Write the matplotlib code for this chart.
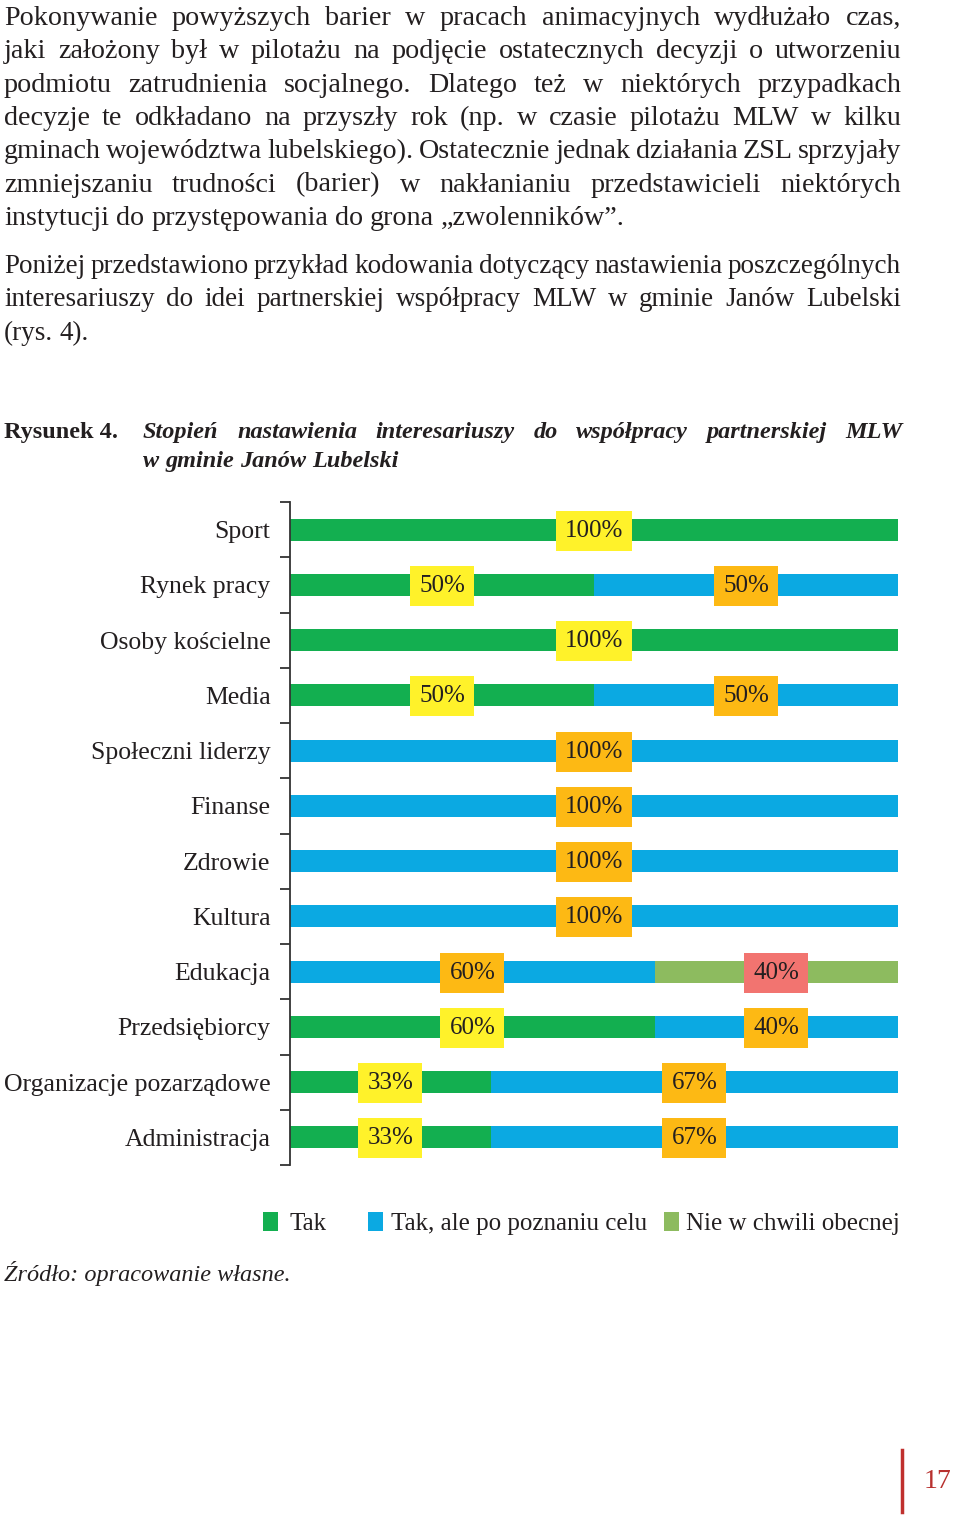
import matplotlib
matplotlib.use("Agg")
import matplotlib.pyplot as plt
import numpy as np

plt.rcParams['font.family'] = ['Liberation Serif', 'DejaVu Serif']

# dane z rysunku
categories = ['Sport', 'Rynek pracy', 'Osoby kościelne', 'Media', 'Społeczni liderzy',
              'Finanse', 'Zdrowie', 'Kultura', 'Edukacja', 'Przedsiębiorcy',
              'Organizacje pozarządowe', 'Administracja']
tak = [100, 50, 100, 50, 0, 0, 0, 0, 0, 60, 33, 33]
tak_po_poznaniu = [0, 50, 0, 50, 100, 100, 100, 100, 60, 40, 67, 67]
nie_obecnie = [0, 0, 0, 0, 0, 0, 0, 0, 40, 0, 0, 0]
series_names = ['Tak', 'Tak, ale po poznaniu celu', 'Nie w chwili obecnej']

bar_colors = ['#13AF50', '#0BA9E2', '#8DBB5F']
box_colors = ['#FFF22A', '#FDB914', '#F27470']
ink = '#231F20'

para1 = [
    "Pokonywanie powyższych barier w pracach animacyjnych wydłużało czas,",
    "jaki założony był w pilotażu na podjęcie ostatecznych decyzji o utworzeniu",
    "podmiotu zatrudnienia socjalnego. Dlatego też w niektórych przypadkach",
    "decyzje te odkładano na przyszły rok (np. w czasie pilotażu MLW w kilku",
    "gminach województwa lubelskiego). Ostatecznie jednak działania ZSL sprzyjały",
    "zmniejszaniu trudności (barier) w nakłanianiu przedstawicieli niektórych",
    "instytucji do przystępowania do grona „zwolenników”.",
]
para2 = [
    "Poniżej przedstawiono przykład kodowania dotyczący nastawienia poszczególnych",
    "interesariuszy do idei partnerskiej współpracy MLW w gminie Janów Lubelski",
    "(rys. 4).",
]

W, H = 960, 1520
fig = plt.figure(figsize=(W / 100, H / 100), dpi=100)
fig.patch.set_facecolor('white')
renderer = fig.canvas.get_renderer()


def fx(x):
    return x / W


def fy(y):
    return 1 - y / H


def text_width(s, size, **kw):
    t = fig.text(0, 0, s, fontsize=size, **kw)
    w = t.get_window_extent(renderer).width
    t.remove()
    return w


def fit_size(lines, width, size, min_gap=4, **kw):
    # najwiekszy rozmiar, przy ktorym wszystkie linie sie mieszcza
    while True:
        ok = True
        for s in lines:
            words = s.split(' ')
            nat = sum(text_width(w, size, **kw) for w in words)
            if nat + min_gap * (len(words) - 1) > width:
                ok = False
                break
        if ok:
            return size
        size -= 0.25


def line_text(s, x0, x1, y, size, justify=True, **kw):
    words = s.split(' ')
    widths = [text_width(w, size, **kw) for w in words]
    if justify and len(words) > 1:
        gap = (x1 - x0 - sum(widths)) / (len(words) - 1)
    else:
        gap = text_width('a a', size, **kw) - text_width('aa', size, **kw)
    x = x0
    for w, wd in zip(words, widths):
        fig.text(fx(x), fy(y), w, fontsize=size, va='baseline', color=ink, **kw)
        x += wd + gap


# tekst akapitow
s1 = fit_size(para1[:-1], 897, 20.5)
for i, s in enumerate(para1):
    line_text(s, 4, 901, 25 + i * 33.3, s1, justify=(i < len(para1) - 1))
s2 = fit_size(para2[:-1], 897, 20.5)
for i, s in enumerate(para2):
    line_text(s, 4, 901, 273 + i * 33.5, s2, justify=(i < len(para2) - 1))

# tytul rysunku
fig.text(fx(4), fy(438), 'Rysunek 4.', fontsize=17.5, fontweight='bold', va='baseline', color=ink)
line_text('Stopień nastawienia interesariuszy do współpracy partnerskiej MLW', 143, 903, 438, 17.5,
          fontweight='bold', style='italic')
line_text('w gminie Janów Lubelski', 143, 903, 467, 17.5, justify=False,
          fontweight='bold', style='italic')

# wykres
ax = fig.add_axes([fx(290), fy(1165), 608 / W, (1165 - 502) / H])
y = np.arange(len(categories))
left = np.zeros(len(categories))
for vals, col, bcol in zip([tak, tak_po_poznaniu, nie_obecnie], bar_colors, box_colors):
    vals = np.array(vals, dtype=float)
    ax.barh(y, vals, left=left, height=0.4, color=col, edgecolor='none', zorder=2)
    for yi, (l, v) in enumerate(zip(left, vals)):
        if v > 0:
            ax.text(l + v / 2, yi + 0.02, f'{int(v)}%', ha='center', va='center', fontsize=18,
                    color=ink, zorder=4,
                    bbox=dict(boxstyle='square,pad=0.36', fc=bcol, ec='none'))
    left += vals

ax.set_xlim(0, 100)
ax.set_ylim(len(categories) - 0.5, -0.5)
ax.set_yticks(y)
ax.set_yticklabels(categories, fontsize=18.5, color=ink)
ax.tick_params(axis='y', which='major', length=0, pad=14)
ax.set_yticks(np.arange(len(categories) + 1) - 0.5, minor=True)
ax.tick_params(axis='y', which='minor', length=7, width=1.3, color='#333333')
ax.set_xticks([])
for side in ['top', 'right', 'bottom']:
    ax.spines[side].set_visible(False)
ax.spines['left'].set_linewidth(1.3)
ax.spines['left'].set_color('#333333')

# legenda
leg_sq_x = [263, 368, 664]
leg_tx_x = [289, 391, 686]
for name, col, sx, tx in zip(series_names, bar_colors, leg_sq_x, leg_tx_x):
    fig.patches.append(plt.Rectangle((fx(sx), fy(1231)), 15 / W, 19 / H, transform=fig.transFigure,
                                     facecolor=col, edgecolor='none'))
    fig.text(fx(tx), fy(1230), name, fontsize=18, va='baseline', color=ink)

# zrodlo
fig.text(fx(4), fy(1281), 'Źródło: opracowanie własne.', fontsize=17.5, style='italic',
         va='baseline', color=ink)

# numer strony
fig.add_artist(plt.Line2D([fx(902), fx(902)], [fy(1450), fy(1512)], transform=fig.transFigure,
                          color='#C0302E', linewidth=2.5))
fig.text(fx(924), fy(1488), '17', fontsize=20, color='#B8312F', va='baseline')

fig.savefig('out.png', dpi=100, facecolor='white')
